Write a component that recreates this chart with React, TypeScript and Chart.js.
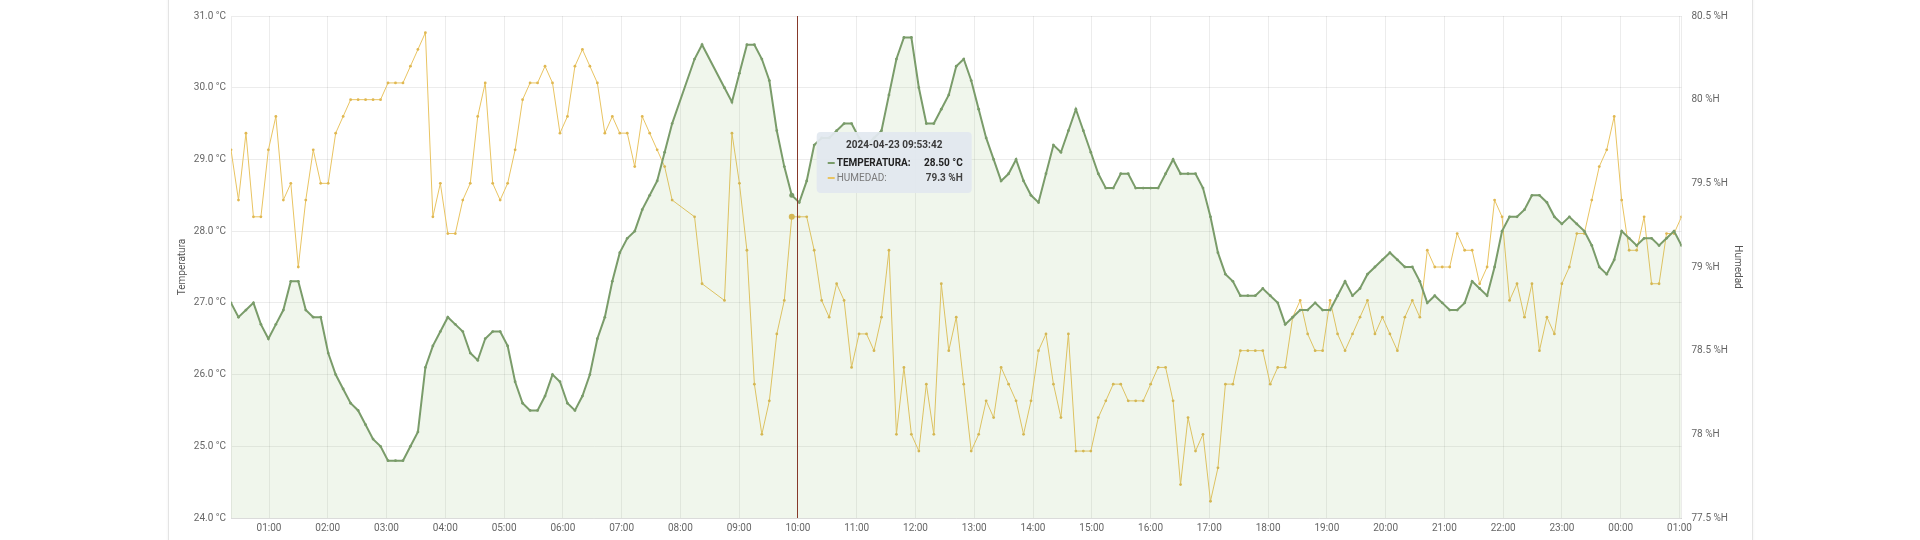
import React, { useEffect, useRef } from "react";
import { Chart, registerables } from "chart.js";

Chart.register(...registerables);

// ---- data ----
const DATE = "2024-04-23";
const START_TIME = "00:21:12"; // first sample
const SAMPLE_SECONDS = 458; // logger interval
const HOVER_INDEX = 75; // sample under the cursor
const CURSOR_TIME = "09:58:45";

// null = missing sample
const temperatura: (number | null)[] = [
  27.0, 26.8, 26.9, 27.0, 26.7, 26.5, 26.7, 26.9, 27.3, 27.3,
  26.9, 26.8, 26.8, 26.3, 26.0, 25.8, 25.6, 25.5, 25.3, 25.1,
  25.0, 24.8, 24.8, 24.8, 25.0, 25.2, 26.1, 26.4, 26.6, 26.8,
  26.7, 26.6, 26.3, 26.2, 26.5, 26.6, 26.6, 26.4, 25.9, 25.6,
  25.5, 25.5, 25.7, 26.0, 25.9, 25.6, 25.5, 25.7, 26.0, 26.5,
  26.8, 27.3, 27.7, 27.9, 28.0, 28.3, 28.5, 28.7, 29.1, 29.5,
  null, null, 30.4, 30.6, null, null, 30.0, 29.8, 30.2, 30.6,
  30.6, 30.4, 30.1, 29.4, 28.9, 28.5, 28.4, 28.7, 29.2, 29.3,
  29.3, 29.4, 29.5, 29.5, 29.3, 29.2, 29.3, 29.4, 29.9, 30.4,
  30.7, 30.7, 30.0, 29.5, 29.5, 29.7, 29.9, 30.3, 30.4, 30.1,
  29.7, 29.3, 29.0, 28.7, 28.8, 29.0, 28.7, 28.5, 28.4, 28.8,
  29.2, 29.1, 29.4, 29.7, 29.4, 29.1, 28.8, 28.6, 28.6, 28.8,
  28.8, 28.6, 28.6, 28.6, 28.6, 28.8, 29.0, 28.8, 28.8, 28.8,
  28.6, 28.2, 27.7, 27.4, 27.3, 27.1, 27.1, 27.1, 27.2, 27.1,
  27.0, 26.7, 26.8, 26.9, 26.9, 27.0, 26.9, 26.9, 27.1, 27.3,
  27.1, 27.2, 27.4, 27.5, 27.6, 27.7, 27.6, 27.5, 27.5, 27.3,
  27.0, 27.1, 27.0, 26.9, 26.9, 27.0, 27.3, 27.2, 27.1, 27.5,
  28.0, 28.2, 28.2, 28.3, 28.5, 28.5, 28.4, 28.2, 28.1, 28.2,
  28.1, 28.0, 27.8, 27.5, 27.4, 27.6, 28.0, 27.9, 27.8, 27.9,
  27.9, 27.8, 27.9, 28.0, 27.8,
];

const humedad: (number | null)[] = [
  79.7, 79.4, 79.8, 79.3, 79.3, 79.7, 79.9, 79.4, 79.5, 79.0,
  79.4, 79.7, 79.5, 79.5, 79.8, 79.9, 80.0, 80.0, 80.0, 80.0,
  80.0, 80.1, 80.1, 80.1, 80.2, 80.3, 80.4, 79.3, 79.5, 79.2,
  79.2, 79.4, 79.5, 79.9, 80.1, 79.5, 79.4, 79.5, 79.7, 80.0,
  80.1, 80.1, 80.2, 80.1, 79.8, 79.9, 80.2, 80.3, 80.2, 80.1,
  79.8, 79.9, 79.8, 79.8, 79.6, 79.9, 79.8, 79.7, 79.6, 79.4,
  null, null, 79.3, 78.9, null, null, 78.8, 79.8, 79.5, 79.1,
  78.3, 78.0, 78.2, 78.6, 78.8, 79.3, 79.3, 79.3, 79.1, 78.8,
  78.7, 78.9, 78.8, 78.4, 78.6, 78.6, 78.5, 78.7, 79.1, 78.0,
  78.4, 78.0, 77.9, 78.3, 78.0, 78.9, 78.5, 78.7, 78.3, 77.9,
  78.0, 78.2, 78.1, 78.4, 78.3, 78.2, 78.0, 78.2, 78.5, 78.6,
  78.3, 78.1, 78.6, 77.9, 77.9, 77.9, 78.1, 78.2, 78.3, 78.3,
  78.2, 78.2, 78.2, 78.3, 78.4, 78.4, 78.2, 77.7, 78.1, 77.9,
  78.0, 77.6, 77.8, 78.3, 78.3, 78.5, 78.5, 78.5, 78.5, 78.3,
  78.4, 78.4, 78.7, 78.8, 78.6, 78.5, 78.5, 78.8, 78.6, 78.5,
  78.6, 78.7, 78.8, 78.6, 78.7, 78.6, 78.5, 78.7, 78.8, 78.7,
  79.1, 79.0, 79.0, 79.0, 79.2, 79.1, 79.1, 78.9, 79.0, 79.4,
  79.3, 78.8, 78.9, 78.7, 78.9, 78.5, 78.7, 78.6, 78.9, 79.0,
  79.2, 79.2, 79.4, 79.6, 79.7, 79.9, 79.4, 79.1, 79.1, 79.3,
  78.9, 78.9, 79.2, 79.2, 79.3,
];

const hourLabels = [
  "01:00", "02:00", "03:00", "04:00", "05:00", "06:00", "07:00", "08:00",
  "09:00", "10:00", "11:00", "12:00", "13:00", "14:00", "15:00", "16:00",
  "17:00", "18:00", "19:00", "20:00", "21:00", "22:00", "23:00", "00:00", "01:00",
];

const tempTicks = { min: 24, max: 31, step: 1 };
const humTicks = { min: 77.5, max: 80.5, step: 0.5 };

// ---- helpers ----
const toSec = (s: string) => {
  const p = s.split(":").map(Number);
  return p[0] * 3600 + p[1] * 60 + (p[2] || 0);
};
const fmtTime = (sec: number) => {
  const h = Math.floor(sec / 3600) % 24;
  const m = Math.floor((sec % 3600) / 60);
  const s = Math.round(sec % 60);
  const z = (n: number) => String(n).padStart(2, "0");
  return `${z(h)}:${z(m)}:${z(s)}`;
};

const startSec = toSec(START_TIME);
const sampleMin = (i: number) => (startSec + i * SAMPLE_SECONDS) / 60;

const hourValues: number[] = [];
hourLabels.forEach((l) => {
  let v = toSec(l) / 60;
  while (hourValues.length && v <= hourValues[hourValues.length - 1]) v += 1440;
  hourValues.push(v);
});

const GREEN = "rgb(122,156,106)";
const YELLOW = "rgb(233,196,98)";
const FONT = "Roboto";

const overlayPlugin = {
  id: "overlay",
  afterDatasetsDraw(chart: any) {
    const { ctx, chartArea, scales } = chart;
    const cx = scales.x.getPixelForValue(toSec(CURSOR_TIME) / 60);
    ctx.save();
    ctx.strokeStyle = "#86392a";
    ctx.lineWidth = 1;
    ctx.beginPath();
    ctx.moveTo(Math.round(cx) + 0.5, chartArea.top);
    ctx.lineTo(Math.round(cx) + 0.5, chartArea.bottom);
    ctx.stroke();
    ctx.restore();
  },
  afterDraw(chart: any) {
    const { ctx, chartArea, scales } = chart;
    const cx = scales.x.getPixelForValue(toSec(CURSOR_TIME) / 60);
    const x = cx + 20;
    const y = chartArea.top + 116;
    const w = 155;
    const h = 61;
    ctx.save();
    ctx.fillStyle = "rgba(226,232,240,0.93)";
    ctx.beginPath();
    (ctx as any).roundRect(x, y, w, h, 4);
    ctx.fill();

    const title = `${DATE} ${fmtTime(startSec + HOVER_INDEX * SAMPLE_SECONDS)}`;
    ctx.textBaseline = "middle";
    ctx.font = `bold 10px ${FONT}`;
    ctx.fillStyle = "#3a3a3a";
    ctx.textAlign = "center";
    ctx.fillText(title, x + w / 2, y + 13);

    const rows = [
      { color: GREEN, label: "TEMPERATURA:", value: `${(temperatura[HOVER_INDEX] as number).toFixed(2)} °C`, bold: true, lc: "#222" },
      { color: YELLOW, label: "HUMEDAD:", value: `${(humedad[HOVER_INDEX] as number).toFixed(1)} %H`, bold: false, lc: "#7a7a7a" },
    ];
    rows.forEach((r, k) => {
      const ry = y + 31 + k * 15;
      ctx.strokeStyle = r.color;
      ctx.lineWidth = 2;
      ctx.beginPath();
      ctx.moveTo(x + 11, ry);
      ctx.lineTo(x + 18, ry);
      ctx.stroke();
      ctx.textAlign = "left";
      ctx.font = `${r.bold ? "bold " : ""}10px ${FONT}`;
      ctx.fillStyle = r.lc;
      ctx.fillText(r.label, x + 20, ry);
      ctx.textAlign = "right";
      ctx.font = `bold 10px ${FONT}`;
      ctx.fillStyle = r.bold ? "#222" : "#444";
      ctx.fillText(r.value, x + w - 9, ry);
    });
    ctx.restore();
  },
};

export default function App() {
  const canvasRef = useRef<HTMLCanvasElement | null>(null);

  useEffect(() => {
    const canvas = canvasRef.current;
    if (!canvas) return;
    const tData = temperatura.map((v, i) => ({ x: sampleMin(i), y: v }));
    const hData = humedad.map((v, i) => ({ x: sampleMin(i), y: v }));
    const xMin = sampleMin(0);
    const xMax = sampleMin(temperatura.length - 1);
    const gridColor = "rgba(0,0,0,0.075)";
    const tickFont = { family: FONT, size: 10 };

    const chart = new Chart(canvas, {
      type: "line",
      data: {
        datasets: [
          {
            label: "TEMPERATURA",
            data: tData as any,
            yAxisID: "yT",
            borderColor: GREEN,
            backgroundColor: "rgba(130,185,100,0.12)",
            borderWidth: 2,
            pointRadius: (c: any) => (c.dataIndex === HOVER_INDEX ? 2.5 : 1.4),
            pointBackgroundColor: GREEN,
            pointBorderWidth: 0,
            fill: "start",
            spanGaps: true,
            tension: 0,
          },
          {
            label: "HUMEDAD",
            data: hData as any,
            yAxisID: "yH",
            borderColor: YELLOW,
            backgroundColor: YELLOW,
            borderWidth: 1,
            pointRadius: (c: any) => (c.dataIndex === HOVER_INDEX ? 3 : 1.4),
            pointBackgroundColor: "rgb(224,184,82)",
            pointBorderWidth: 0,
            fill: false,
            spanGaps: true,
            tension: 0,
          },
        ],
      },
      options: {
        responsive: false,
        animation: false,
        events: [],
        layout: { padding: { left: 170, right: 175, top: 15, bottom: 0 } },
        plugins: {
          legend: { display: false },
          tooltip: { enabled: false },
        },
        scales: {
          x: {
            type: "linear",
            min: xMin,
            max: xMax,
            afterBuildTicks: (s: any) => {
              s.ticks = hourValues.map((v) => ({ value: v }));
            },
            afterFit: (s: any) => {
              s.height = 22;
            },
            ticks: {
              autoSkip: false,
              maxRotation: 0,
              padding: 4,
              color: "#666",
              font: tickFont,
              callback: (_v: any, i: number) => hourLabels[i],
            },
            grid: { color: gridColor, drawTicks: false },
            border: { color: gridColor },
          },
          yT: {
            position: "left",
            min: tempTicks.min,
            max: tempTicks.max,
            afterFit: (s: any) => {
              s.width = 61;
            },
            ticks: {
              stepSize: tempTicks.step,
              padding: 5,
              color: "#666",
              font: tickFont,
              callback: (v: any) => `${Number(v).toFixed(1)} °C`,
            },
            title: {
              display: true,
              text: "Temperatura",
              color: "#555",
              font: { family: FONT, size: 10 },
              padding: { top: 6, bottom: 0 },
            },
            grid: { color: gridColor, drawTicks: false },
            border: { color: gridColor },
          },
          yH: {
            position: "right",
            min: humTicks.min,
            max: humTicks.max,
            afterFit: (s: any) => {
              s.width = 63.5;
            },
            ticks: {
              stepSize: humTicks.step,
              padding: 10,
              color: "#666",
              font: tickFont,
              callback: (v: any) => `${Number(v)} %H`,
            },
            title: {
              display: true,
              text: "Humedad",
              color: "#555",
              font: { family: FONT, size: 10 },
              padding: { top: 1.5, bottom: 0 },
            },
            grid: { drawOnChartArea: false, drawTicks: false },
            border: { color: gridColor },
          },
        },
      } as any,
      plugins: [overlayPlugin],
    });
    return () => chart.destroy();
  }, []);

  return (
    <div style={{ position: "fixed", left: 0, top: 0, width: 1920, height: 540, background: "#fff", overflow: "hidden" }}>
      <div
        style={{
          position: "absolute",
          left: 168,
          top: -10,
          width: 1583,
          height: 570,
          border: "1px solid #e4e4e4",
          boxShadow: "0 0 3px rgba(0,0,0,0.06)",
          background: "#fff",
        }}
      />
      <canvas
        ref={canvasRef}
        width={1920}
        height={540}
        style={{ position: "absolute", left: 0, top: 0, width: 1920, height: 540 }}
      />
    </div>
  );
}
